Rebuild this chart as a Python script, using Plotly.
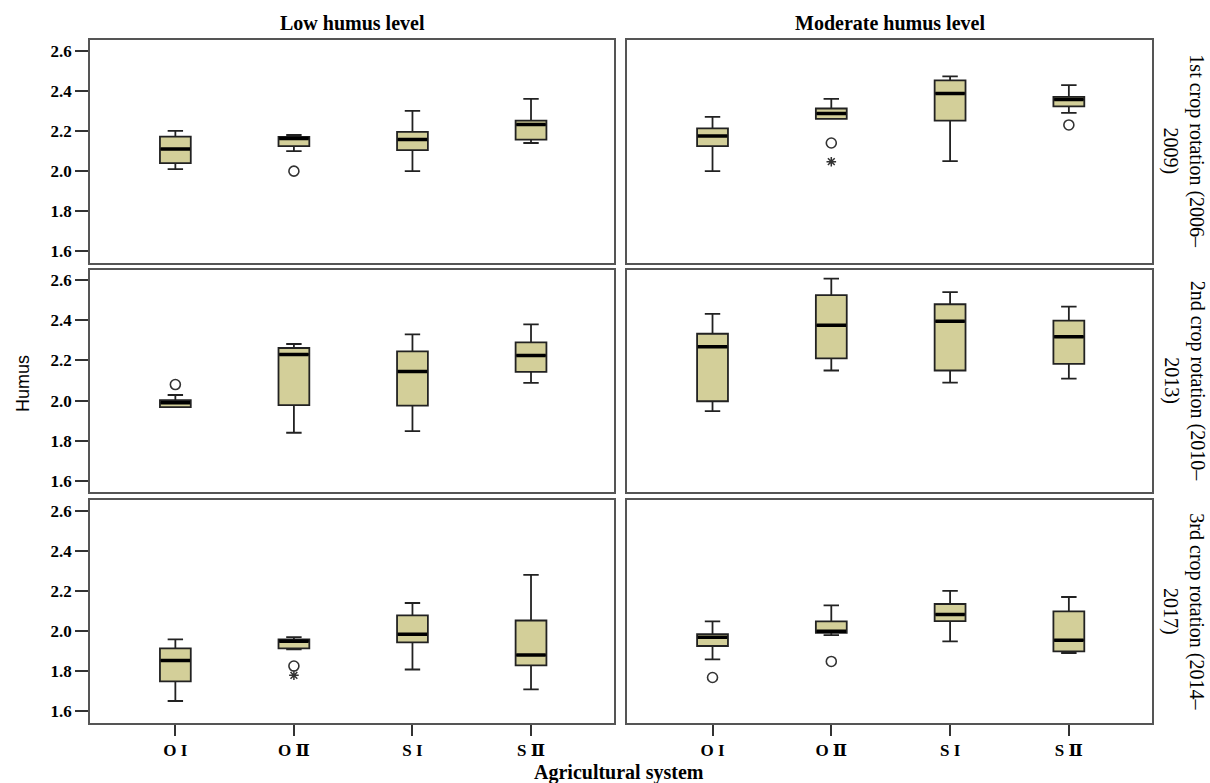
import plotly.graph_objects as go

W, H = 1210, 783

categories = ["O I", "O Ⅱ", "S I", "S Ⅱ"]
col_titles = ["Low humus level", "Moderate humus level"]
row_titles = ["1st crop rotation (2006–<br>2009)",
              "2nd crop rotation (2010–<br>2013)",
              "3rd crop rotation (2014–<br>2017)"]
y_ticks = [1.6, 1.8, 2.0, 2.2, 2.4, 2.6]

# (row, col) -> box statistics per category
low_1 = dict(lf=[2.01, 2.10, 2.00, 2.14], q1=[2.04, 2.125, 2.105, 2.157],
             med=[2.11, 2.162, 2.157, 2.232], q3=[2.172, 2.17, 2.195, 2.252],
             uf=[2.20, 2.18, 2.30, 2.36])
mod_1 = dict(lf=[2.00, 2.26, 2.05, 2.29], q1=[2.125, 2.26, 2.252, 2.322],
             med=[2.175, 2.287, 2.387, 2.357], q3=[2.213, 2.312, 2.452, 2.37],
             uf=[2.27, 2.36, 2.472, 2.428])
low_2 = dict(lf=[1.968, 1.84, 1.848, 2.088], q1=[1.968, 1.978, 1.975, 2.143],
             med=[1.99, 2.23, 2.145, 2.225], q3=[2.003, 2.262, 2.245, 2.29],
             uf=[2.028, 2.282, 2.33, 2.38])
mod_2 = dict(lf=[1.948, 2.15, 2.09, 2.11], q1=[1.997, 2.21, 2.15, 2.183],
             med=[2.268, 2.375, 2.395, 2.318], q3=[2.333, 2.525, 2.48, 2.398],
             uf=[2.432, 2.608, 2.54, 2.468])
low_3 = dict(lf=[1.652, 1.909, 1.809, 1.71], q1=[1.75, 1.914, 1.944, 1.829],
             med=[1.854, 1.95, 1.984, 1.881], q3=[1.914, 1.959, 2.078, 2.053],
             uf=[1.959, 1.97, 2.14, 2.28])
mod_3 = dict(lf=[1.859, 1.98, 1.949, 1.891], q1=[1.926, 1.992, 2.05, 1.899],
             med=[1.969, 2.0, 2.083, 1.955], q3=[1.985, 2.049, 2.135, 2.098],
             uf=[2.049, 2.128, 2.2, 2.17])

# outliers (circles) and extremes (stars): (category, value)
out_low_1 = [("O Ⅱ", 2.0)]
out_mod_1 = [("O Ⅱ", 2.14), ("S Ⅱ", 2.23)]
ext_mod_1 = [("O Ⅱ", 2.047)]
out_low_2 = [("O I", 2.08)]
out_mod_2 = []
out_low_3 = [("O Ⅱ", 1.826)]
ext_low_3 = [("O Ⅱ", 1.78)]
out_mod_3 = [("O I", 1.769), ("O Ⅱ", 1.849)]

panels = [
    (1, 1, low_1, out_low_1, []), (1, 2, mod_1, out_mod_1, ext_mod_1),
    (2, 1, low_2, out_low_2, []), (2, 2, mod_2, out_mod_2, []),
    (3, 1, low_3, out_low_3, ext_low_3), (3, 2, mod_3, out_mod_3, []),
]

# layout geometry (pixels)
col_px = [(90, 614), (627, 1152)]
row_px = [(40, 262.7), (269.5, 492.2), (500, 722.7)]

fig = go.Figure()
layout = {}
serif = "Liberation Serif, DejaVu Serif, serif"
FILL = "#d3cf99"

for r, c, st, outs, exts in panels:
    idx = (r - 1) * 2 + c
    xa = "x" if idx == 1 else f"x{idx}"
    ya = "y" if idx == 1 else f"y{idx}"
    fig.add_trace(go.Box(
        x=categories, q1=st["q1"], median=st["med"], q3=st["q3"],
        lowerfence=st["lf"], upperfence=st["uf"],
        fillcolor=FILL, line=dict(color="#222222", width=1.8),
        whiskerwidth=0.5, width=0.26, boxpoints=False,
        xaxis=xa, yaxis=ya, showlegend=False, hoverinfo="skip"))
    fig.add_trace(go.Scatter(
        x=categories, y=st["med"], mode="markers",
        marker=dict(symbol="line-ew", size=21,
                    line=dict(color="black", width=3.5)),
        xaxis=xa, yaxis=ya, showlegend=False, hoverinfo="skip"))
    if outs:
        fig.add_trace(go.Scatter(
            x=[o[0] for o in outs], y=[o[1] for o in outs], mode="markers",
            marker=dict(symbol="circle-open", size=10,
                        line=dict(color="#333333", width=1.6), color="#333333"),
            xaxis=xa, yaxis=ya, showlegend=False, hoverinfo="skip"))
    if exts:
        fig.add_trace(go.Scatter(
            x=[o[0] for o in exts], y=[o[1] for o in exts], mode="markers",
            marker=dict(symbol="asterisk-open", size=8,
                        line=dict(color="#333333", width=1.5), color="#333333"),
            xaxis=xa, yaxis=ya, showlegend=False, hoverinfo="skip"))

    x0, x1 = col_px[c - 1]
    y0, y1 = row_px[r - 1]
    xkey = "xaxis" if idx == 1 else f"xaxis{idx}"
    ykey = "yaxis" if idx == 1 else f"yaxis{idx}"
    bottom = (r == 3)
    left = (c == 1)
    layout[xkey] = dict(
        domain=[x0 / W, x1 / W], anchor=ya, type="category",
        categoryorder="array", categoryarray=categories,
        range=[-0.72, 3.70], showgrid=False, zeroline=False,
        showline=True, mirror=True, linecolor="#555555", linewidth=1.6,
        ticks="outside" if bottom else "", ticklen=11, tickwidth=1.6,
        tickcolor="#333333", showticklabels=bottom,
        tickfont=dict(family=serif, size=17, color="black", weight="bold"))
    layout[ykey] = dict(
        domain=[1 - y1 / H, 1 - y0 / H], anchor=xa,
        range=[1.544, 2.653], showgrid=False, zeroline=False,
        showline=True, mirror=True, linecolor="#555555", linewidth=1.6,
        tickvals=y_ticks, tickformat=".1f",
        ticks="outside" if left else "", ticklen=13, tickwidth=1.6,
        tickcolor="#333333", showticklabels=left,
        tickfont=dict(family=serif, size=17, color="black", weight="bold"))

annotations = []
for i, t in enumerate(col_titles):
    x0, x1 = col_px[i]
    annotations.append(dict(
        text=t, x=(x0 + x1) / 2 / W, y=1 - 23 / H, xref="paper", yref="paper",
        showarrow=False, xanchor="center", yanchor="middle",
        font=dict(family=serif, size=20, color="black", weight="bold")))
for i, t in enumerate(row_titles):
    y0, y1 = row_px[i]
    annotations.append(dict(
        text=t, x=1184 / W, y=1 - (y0 + y1) / 2 / H, xref="paper", yref="paper",
        showarrow=False, xanchor="center", yanchor="middle", textangle=90,
        font=dict(family=serif, size=20, color="black")))
annotations.append(dict(
    text="Humus", x=23 / W, y=1 - 383 / H, xref="paper", yref="paper",
    showarrow=False, xanchor="center", yanchor="middle", textangle=-90,
    font=dict(family="Liberation Sans, Arial, sans-serif", size=18, color="black")))
annotations.append(dict(
    text="Agricultural system", x=619 / W, y=1 - 772 / H, xref="paper", yref="paper",
    showarrow=False, xanchor="center", yanchor="middle",
    font=dict(family=serif, size=20, color="black", weight="bold")))

fig.update_layout(
    width=W, height=H, margin=dict(l=0, r=0, t=0, b=0),
    paper_bgcolor="white", plot_bgcolor="white",
    annotations=annotations, **layout)

fig.write_html("out.html", config={"displayModeBar": False},
               post_script="document.body.style.margin='0';"
                           "document.body.style.overflow='hidden';")
